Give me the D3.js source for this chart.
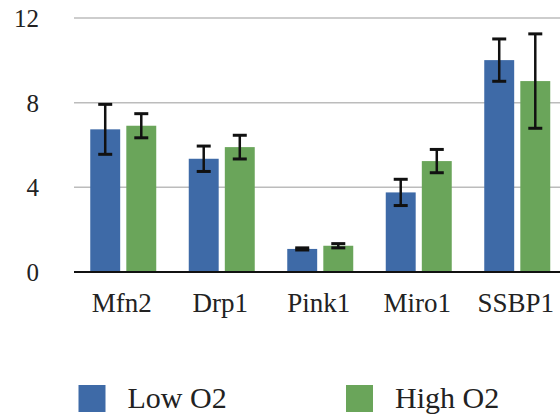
<!DOCTYPE html>
<html><head><meta charset="utf-8">
<script src="https://cdn.jsdelivr.net/npm/d3@7"></script>
<style>body{margin:0;background:#fff}svg{display:block}svg text{font-family:"Liberation Serif" !important}</style>
</head><body><svg id="c" width="560" height="414"></svg>
<script>
const categories = ["Mfn2","Drp1","Pink1","Miro1","SSBP1"];
const seriesNames = ["Low O2","High O2"];
const lowO2 = [6.74, 5.35, 1.09, 3.76, 10.01];
const lowO2Err = [1.18, 0.6, 0.05, 0.62, 1.0];
const highO2 = [6.91, 5.9, 1.24, 5.24, 9.02];
const highO2Err = [0.57, 0.56, 0.1, 0.55, 2.23];
const yTicks = [0, 4, 8, 12];
const colors = ["#3e6aa7", "#6aa55a"];
const FONT = "Liberation Serif";

const svg = d3.select("#c");
const x = d3.scaleBand().domain(categories).range([74, 566.5]).paddingInner(0.33).paddingOuter(0.165);
const xs = d3.scaleBand().domain(seriesNames).range([0, x.bandwidth()]).paddingInner(0.17);
const y = d3.scaleLinear().domain([0, 12]).range([272, 18]);

svg.append("g").selectAll("line").data(yTicks.filter(t => t > 0)).join("line")
  .attr("x1", 74).attr("x2", 560).attr("y1", d => y(d)).attr("y2", d => y(d))
  .attr("stroke", "#bcbcbc").attr("stroke-width", 1.5);

svg.append("g").selectAll("text").data(yTicks).join("text")
  .attr("x", 39).attr("y", d => y(d) + 9).attr("text-anchor", "end")
  .style("font-family", FONT, "important").attr("font-size", 25).attr("fill", "#222").text(d => d);

const data = [];
categories.forEach((c, i) => {
  data.push({c, s: seriesNames[0], v: lowO2[i], e: lowO2Err[i], col: colors[0]});
  data.push({c, s: seriesNames[1], v: highO2[i], e: highO2Err[i], col: colors[1]});
});

svg.append("g").selectAll("rect").data(data).join("rect")
  .attr("x", d => x(d.c) + xs(d.s)).attr("width", xs.bandwidth())
  .attr("y", d => y(d.v)).attr("height", d => y(0) - y(d.v)).attr("fill", d => d.col);

svg.append("line").attr("x1", 74).attr("x2", 560).attr("y1", y(0)).attr("y2", y(0))
  .attr("stroke", "#111").attr("stroke-width", 2);

const eb = svg.append("g").attr("stroke", "#111");
data.forEach(d => {
  const cx = x(d.c) + xs(d.s) + xs.bandwidth() / 2;
  eb.append("line").attr("x1", cx).attr("x2", cx).attr("y1", y(d.v + d.e)).attr("y2", y(d.v - d.e)).attr("stroke-width", 2.5);
  [d.v + d.e, d.v - d.e].forEach(t => eb.append("line").attr("x1", cx - 7).attr("x2", cx + 7)
    .attr("y1", y(t)).attr("y2", y(t)).attr("stroke-width", 3));
});

svg.append("g").selectAll("text").data(categories).join("text")
  .attr("x", d => x(d) + x.bandwidth() / 2 - 1.5).attr("y", 311.5).attr("text-anchor", "middle")
  .style("font-family", FONT, "important").attr("font-size", 27).attr("fill", "#222").text(d => d);

const legX = [78.5, 346];
const lg = svg.append("g").selectAll("g").data(seriesNames).join("g")
  .attr("transform", (d, i) => `translate(${legX[i]},385)`);
lg.append("rect").attr("width", 27).attr("height", 27).attr("fill", (d, i) => colors[i]);
lg.append("text").attr("x", 49).attr("y", 23.3).style("font-family", FONT, "important").attr("font-size", 30).attr("fill", "#222").text(d => d);
</script></body></html>
